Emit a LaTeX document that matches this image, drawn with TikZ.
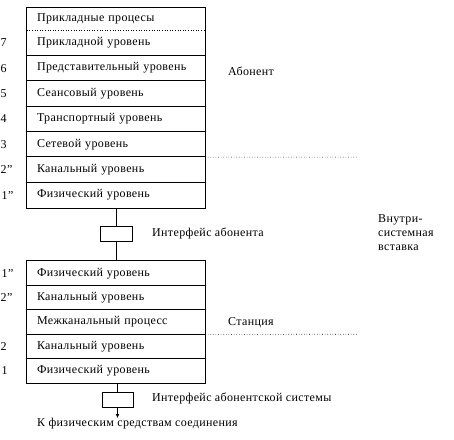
\documentclass[tikz,border=0pt]{standalone}
\usepackage{fontspec}
\setmainfont[LetterSpace=3,Ligatures=TeX]{Liberation Serif}
\usetikzlibrary{arrows.meta}
\begin{document}
\begin{tikzpicture}[x=1pt,y=-1pt,
  every node/.style={font=\rmfamily\fontsize{12}{14}\selectfont, inner sep=0pt},
  row/.style={text width=158pt, align=left, inner xsep=10pt, minimum height=25.4pt, anchor=center},
  lrow/.style={row, minimum height=24.4pt},
  frame/.style={draw, line width=0.8pt},
  sep/.style={line width=0.8pt},
  dots/.style={dotted, line width=0.6pt},
  num/.style={anchor=west},
  lbl/.style={anchor=west},
  ibox/.style={draw, line width=0.8pt, minimum width=32pt, minimum height=15pt}
]
\useasboundingbox (0,0) rectangle (454,439);
% upper stack
\node[row, minimum height=22pt] (tp) at (116,19) {Прикладные процесы};
\node[row] (r7) at (116,42.7) {Прикладной уровень};
\node[row] (r6) at (116,68.1) {Представительный уровень};
\node[row] (r5) at (116,93.5) {Сеансовый уровень};
\node[row] (r4) at (116,118.9) {Транспортный уровень};
\node[row] (r3) at (116,144.3) {Сетевой уровень};
\node[row] (r2) at (116,169.7) {Канальный уровень};
\node[row] (r1) at (116,195.1) {Физический уровень};
\draw[frame] (tp.north west) rectangle (r1.south east);
\draw[dots] (tp.south west) -- (tp.south east);
\foreach \n in {r6,r5,r4,r3,r2,r1} \draw[sep] (\n.north west) -- (\n.north east);
\coordinate (d1) at (357,157.1);
\draw[dots] (r3.south east) -- (d1);
% numbers upper
\node[num] (n7) at (0.5,42.7) {7};
\node[num] (n6) at (0.5,68.1) {6};
\node[num] (n5) at (0.5,93.5) {5};
\node[num] (n4) at (0.5,118.9) {4};
\node[num] (n3) at (0.5,144.3) {3};
\node[num] (n2) at (0.5,169.7) {2"};
\node[num] (n1) at (1.5,195.1) {1"};
% labels
\node[lbl] (ab) at (228,71) {Абонент};
% interface box
\node[ibox] (ia) at (116,234) {};
\node[lbl] (ial) at (152,233) {Интерфейс абонента};
\node[lbl, align=left, anchor=north west] (vs) at (378,214) {Внутри-\\системная\\вставка};
% lower stack
\node[lrow] (l1) at (116,273.2) {Физический уровень};
\node[lrow] (l2) at (116,297.6) {Канальный уровень};
\node[lrow] (lm) at (116,322.0) {Межканальный процесс};
\node[lrow] (l3) at (116,346.4) {Канальный уровень};
\node[lrow] (l4) at (116,370.8) {Физический уровень};
\draw[frame] (l1.north west) rectangle (l4.south east);
\foreach \n in {l2,lm,l3,l4} \draw[sep] (\n.north west) -- (\n.north east);
\coordinate (d2) at (358,334.2);
\draw[dots] (lm.south east) -- (d2);
\node[num] (m1) at (1.5,273.2) {1"};
\node[num] (m2) at (0.5,297.6) {2"};
\node[num] (m3) at (0.5,346.4) {2};
\node[num] (m4) at (1.5,370.8) {1};
\node[lbl] (st) at (228,323) {Станция};
% connectors
\draw[sep] (r1.south) -- (ia.north);
\draw[sep] (ia.south) -- (ia.south |- l1.north);
\node[ibox, minimum width=31pt] (ib) at (117.5,399.5) {};
\draw[sep] (ib.north |- l4.south) -- (ib.north);
\coordinate (ae) at (117.5,418);
\draw[line width=0.8pt, -{Latex[length=4pt,width=4pt]}] (ib.south) -- (ae);
\node[lbl] (ibl) at (152,398) {Интерфейс абонентской системы};
\node[lbl] (kf) at (37,424) {К физическим средствам соединения};
\end{tikzpicture}
\end{document}
